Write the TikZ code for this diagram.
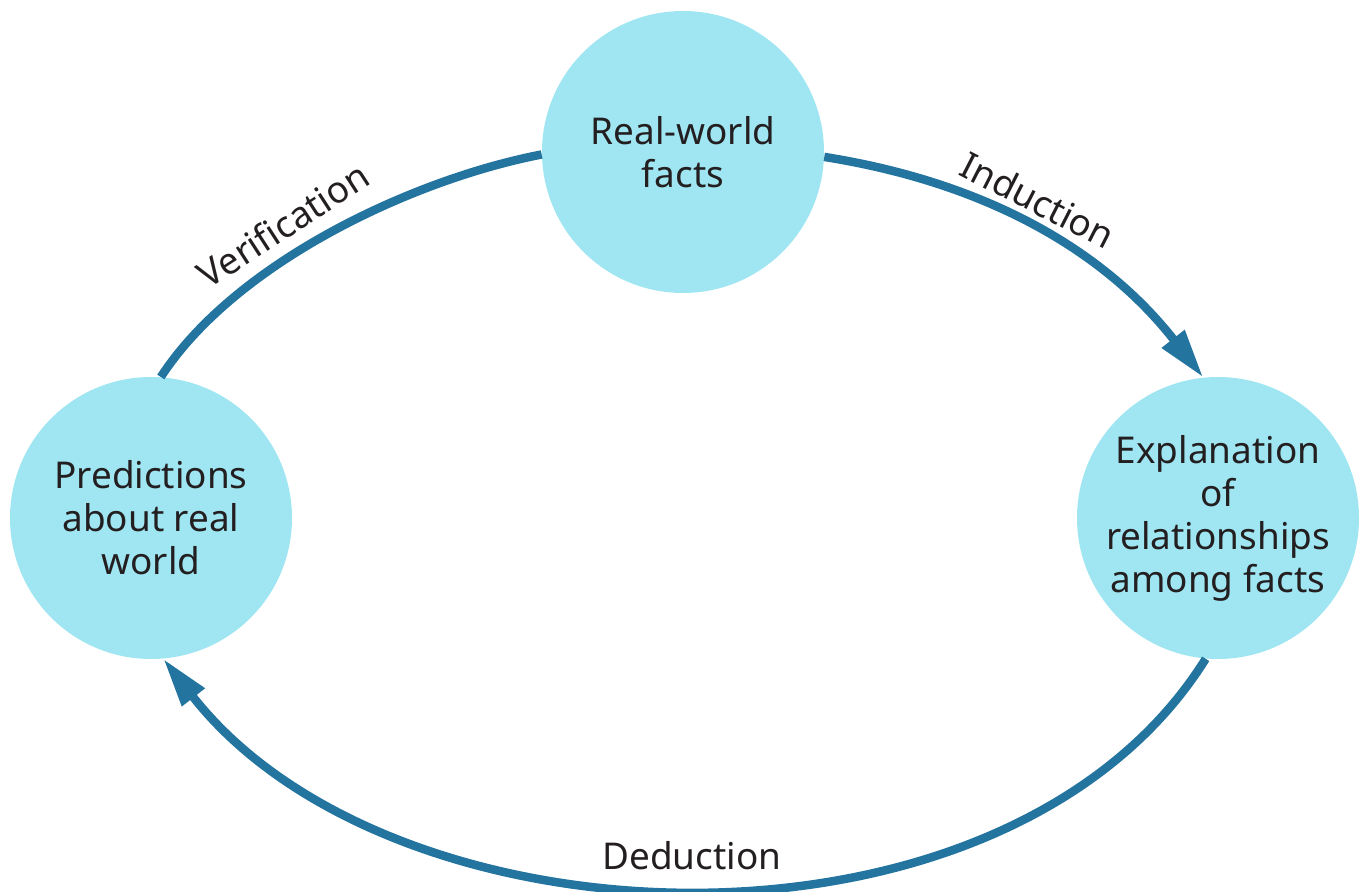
\documentclass[tikz,border=0pt]{standalone}
\usepackage{fontspec}
\setmainfont{Noto Sans}
\usetikzlibrary{arrows.meta}
\definecolor{cycleFill}{RGB}{160,230,242}
\definecolor{cycleLine}{RGB}{36,116,160}
\definecolor{cycleText}{RGB}{35,31,32}

\begin{document}
\begin{tikzpicture}[
  stage/.style={circle, fill=cycleFill, minimum size=5.64cm, inner sep=0pt,
                font=\fontsize{21}{24.5}\selectfont, text=cycleText, align=center},
  flow/.style={cycleLine, line width=0.17cm},
  flowarrow/.style={flow, -{Triangle[length=0.98cm, width=0.54cm]}},
  flowlabel/.style={font=\fontsize{21}{24}\selectfont, text=cycleText},
]

%% ── canvas: 1 px = 0.02 cm ───────────────────────────────
\useasboundingbox (0,0) rectangle (27.22,17.84);

%% ── the three stages ─────────────────────────────────────
\node[stage] (facts)   at (13.66,14.80) {Real-world\\facts};
\node[stage] (explain) at (24.36,7.48)  {Explanation\\of\\relationships\\among facts};
\node[stage] (predict) at (3.02,7.48)   {Predictions\\about real\\world};

%% ── connectors ───────────────────────────────────────────
% Induction: facts -> explanation
\draw[flowarrow] (facts.-2) to[out=-9, in=128, looseness=0.95] (explain.96);
% Deduction: explanation -> predictions
\draw[flowarrow] (explain.-95) to[out=-122, in=-52, looseness=0.92] (predict.-85);
% Verification: predictions -> facts
\draw[flow] (predict.86) to[out=57, in=191, looseness=0.78] (facts.181);

%% ── labels ───────────────────────────────────────────────
\node[flowlabel, rotate=-27] (induction)    at (20.76,13.84) {Induction};
\node[flowlabel, rotate=33]  (verification) at (5.66,13.34)  {Verification};
\node[flowlabel]             (deduction)    at (13.84,0.72)  {Deduction};

\end{tikzpicture}
\end{document}
